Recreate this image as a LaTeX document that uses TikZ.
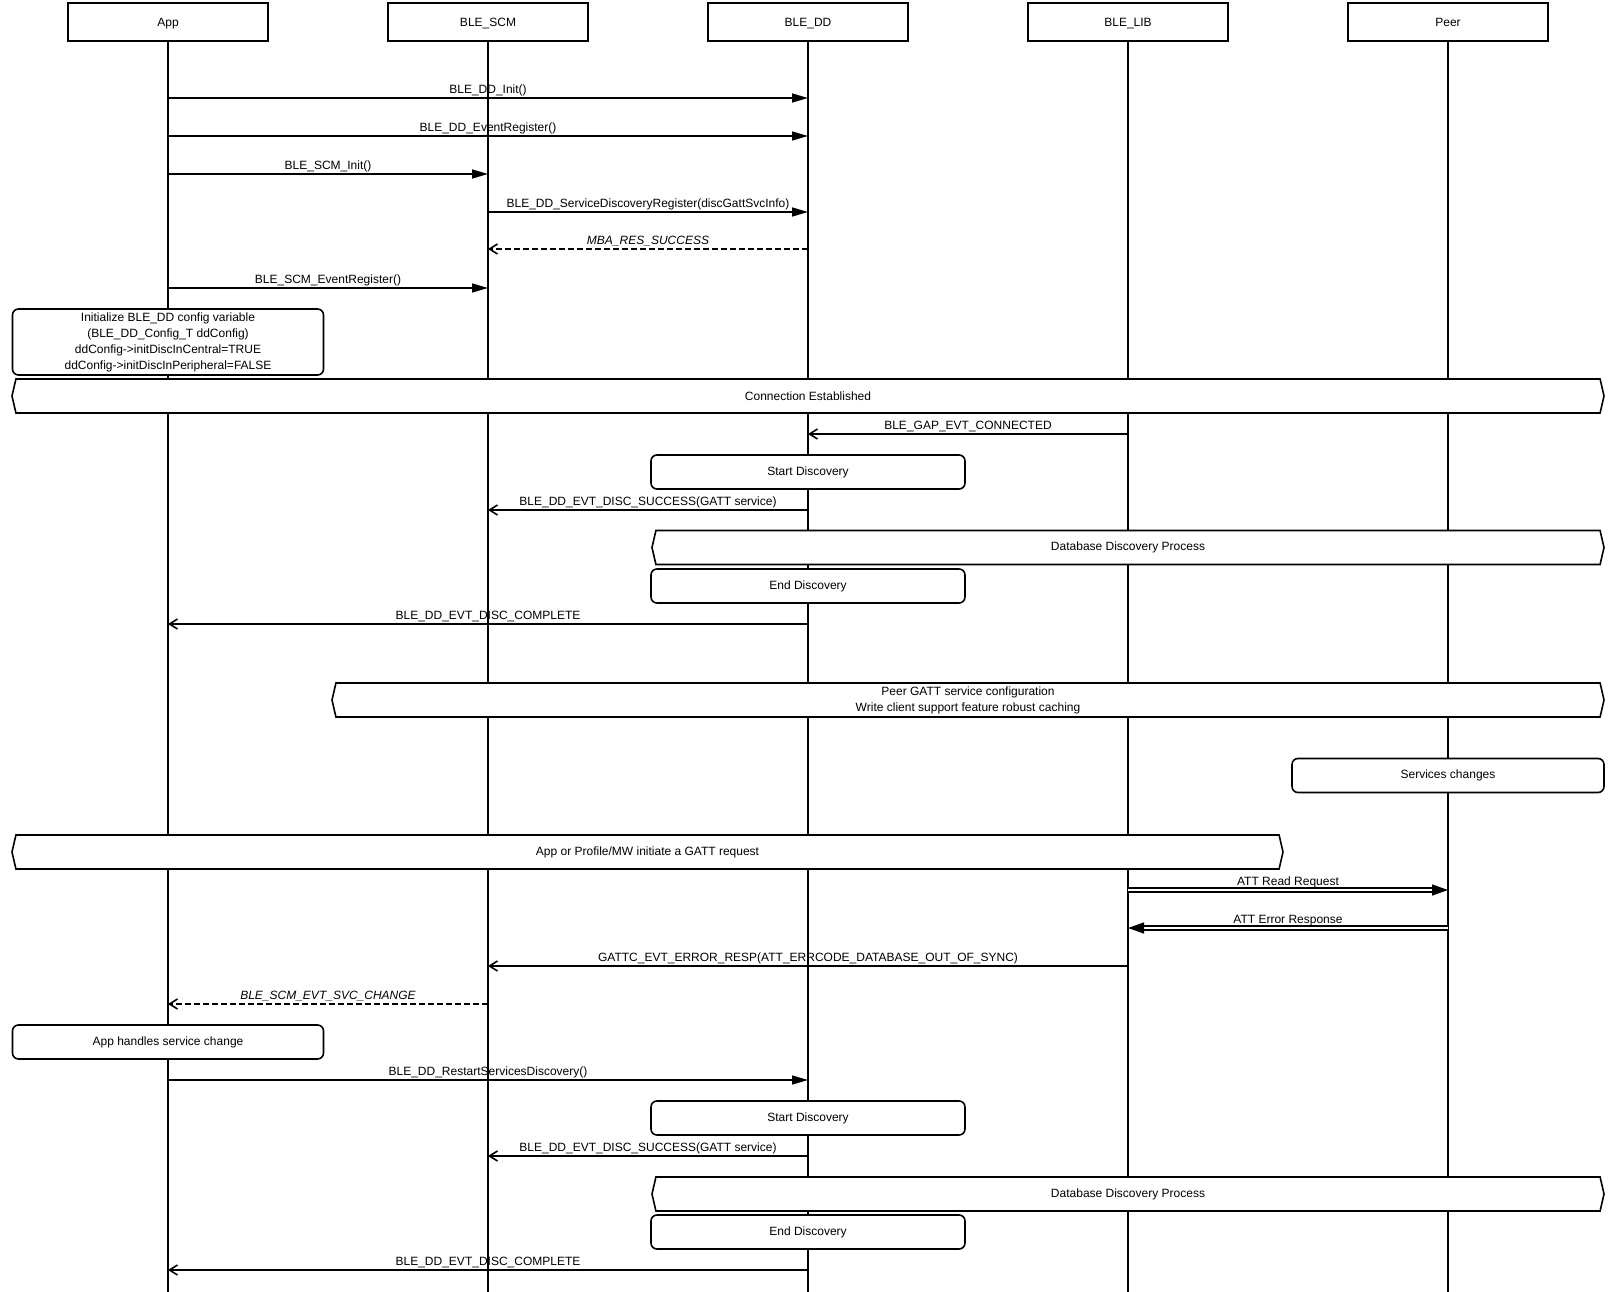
\documentclass[tikz,border=0pt]{standalone}
\usepackage{fontspec}
\setmainfont{Liberation Sans}
\usetikzlibrary{arrows.meta,shapes.symbols,positioning}
\tikzstyle{life_head} = [draw, fill=white, line width=1.6pt, minimum width=200pt, minimum height=38pt, inner sep=0pt, outer sep=0pt, text height=8.6pt, text depth=0pt]
\tikzstyle{life_line} = [line width=1.6pt]
\tikzstyle{msg_call} = [line width=1.6pt, -{Triangle[length=16pt,width=9pt]}]
\tikzstyle{msg_reply} = [line width=1.6pt, -{Straight Barb[length=8pt,width=10pt]}]
\tikzstyle{msg_return} = [msg_reply, dash pattern=on 6pt off 3pt]
\tikzstyle{msg_double} = [double, double distance=2.8pt, line width=1.3pt, -{Triangle[length=16pt,width=11pt]}]
\tikzstyle{msg_label} = [midway, anchor=base, yshift=4.5pt, inner sep=0pt]
\tikzstyle{node_note} = [draw, fill=white, rounded corners=6pt, line width=1.6pt, inner sep=0pt, align=center, minimum height=34pt]
\tikzstyle{node_banner} = [draw, fill=white, line width=1.6pt, shape=signal, signal to=west and east, signal pointer angle=154, inner sep=0pt, minimum height=34pt, align=center]

\begin{document}
\begin{tikzpicture}[x=1pt, y=-1pt, font=\fontsize{12pt}{16pt}\selectfont]
\useasboundingbox (0,0) rectangle (1616,1292);

% lifeline heads
\node[life_head] (app) at (168,22) {App};
\node[life_head, right=120pt of app] (scm) {BLE\_SCM};
\node[life_head, right=120pt of scm] (dd) {BLE\_DD};
\node[life_head, right=120pt of dd] (lib) {BLE\_LIB};
\node[life_head, right=120pt of lib] (peer) {Peer};

\foreach \l in {app,scm,dd,lib,peer} {
  \coordinate (\l_end) at (\l |- 0,1292);
  \draw[life_line] (\l.south) -- (\l_end);
}

% setup
\draw[msg_call] (app |- 0,98) -- (dd |- 0,98) node[msg_label] {BLE\_DD\_Init()};
\draw[msg_call] (app |- 0,136) -- (dd |- 0,136) node[msg_label] {BLE\_DD\_EventRegister()};
\draw[msg_call] (app |- 0,174) -- (scm |- 0,174) node[msg_label] {BLE\_SCM\_Init()};
\draw[msg_call] (scm |- 0,212) -- (dd |- 0,212) node[msg_label] {BLE\_DD\_ServiceDiscoveryRegister(discGattSvcInfo)};
\draw[msg_return] (dd |- 0,249) -- (scm |- 0,249) node[msg_label, font=\fontsize{12pt}{16pt}\selectfont\itshape] {MBA\_RES\_SUCCESS};
\draw[msg_call] (app |- 0,288) -- (scm |- 0,288) node[msg_label] {BLE\_SCM\_EventRegister()};

\node[node_note, minimum width=311pt, minimum height=66pt] (init_cfg) at (app |- 0,342) {Initialize BLE\_DD config variable\\(BLE\_DD\_Config\_T ddConfig)\\ddConfig->initDiscInCentral=TRUE\\ddConfig->initDiscInPeripheral=FALSE};

% first discovery
\node[node_banner, minimum width=1592pt] (conn_est) at (dd |- 0,396) {Connection Established};
\draw[msg_reply] (lib |- 0,434) -- (dd |- 0,434) node[msg_label] {BLE\_GAP\_EVT\_CONNECTED};
\node[node_note, minimum width=314pt] (start_disc1) at (dd |- 0,472) {Start Discovery};
\draw[msg_reply] (dd |- 0,510) -- (scm |- 0,510) node[msg_label] {BLE\_DD\_EVT\_DISC\_SUCCESS(GATT service)};
\node[node_banner, minimum width=952pt] (db_disc1) at (lib |- 0,547.5) {Database Discovery Process};
\node[node_note, minimum width=314pt] (end_disc1) at (dd |- 0,586) {End Discovery};
\draw[msg_reply] (dd |- 0,624) -- (app |- 0,624) node[msg_label] {BLE\_DD\_EVT\_DISC\_COMPLETE};

% service change
\node[node_banner, minimum width=1272pt] (peer_cfg) at (968,700) {Peer GATT service configuration\\Write client support feature robust caching};
\node[node_note, minimum width=312pt] (svc_chg) at (peer |- 0,775.5) {Services changes};
\node[node_banner, minimum width=1271pt] (gatt_req) at (647.5,852) {App or Profile/MW initiate a GATT request};
\draw[msg_double] (lib |- 0,890) -- (peer |- 0,890) node[msg_label] {ATT Read Request};
\draw[msg_double] (peer |- 0,928) -- (lib |- 0,928) node[msg_label] {ATT Error Response};
\draw[msg_reply] (lib |- 0,966) -- (scm |- 0,966) node[msg_label] {GATTC\_EVT\_ERROR\_RESP(ATT\_ERRCODE\_DATABASE\_OUT\_OF\_SYNC)};
\draw[msg_return] (scm |- 0,1004) -- (app |- 0,1004) node[msg_label, font=\fontsize{12pt}{16pt}\selectfont\itshape] {BLE\_SCM\_EVT\_SVC\_CHANGE};
\node[node_note, minimum width=311pt] (app_handle) at (app |- 0,1042) {App handles service change};

% rediscovery
\draw[msg_call] (app |- 0,1080) -- (dd |- 0,1080) node[msg_label] {BLE\_DD\_RestartServicesDiscovery()};
\node[node_note, minimum width=314pt] (start_disc2) at (dd |- 0,1118) {Start Discovery};
\draw[msg_reply] (dd |- 0,1156) -- (scm |- 0,1156) node[msg_label] {BLE\_DD\_EVT\_DISC\_SUCCESS(GATT service)};
\node[node_banner, minimum width=952pt] (db_disc2) at (lib |- 0,1194) {Database Discovery Process};
\node[node_note, minimum width=314pt] (end_disc2) at (dd |- 0,1232) {End Discovery};
\draw[msg_reply] (dd |- 0,1270) -- (app |- 0,1270) node[msg_label] {BLE\_DD\_EVT\_DISC\_COMPLETE};
\end{tikzpicture}
\end{document}
